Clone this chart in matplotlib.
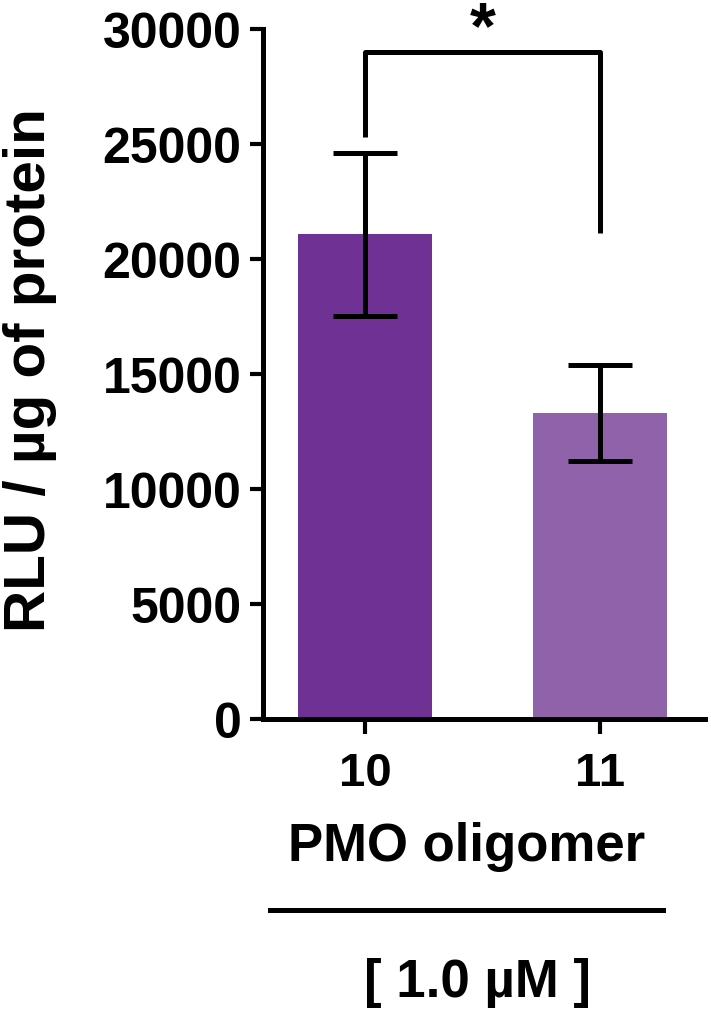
import matplotlib.pyplot as plt

plt.rcParams['font.family'] = ['Liberation Sans', 'DejaVu Sans']
plt.rcParams['font.weight'] = 'bold'

# data
groups = ['10', '11']
means = [21080, 13300]
errors = [3550, 2090]
bar_colors = ['#6f3193', '#9062a9']
yticks = [0, 5000, 10000, 15000, 20000, 25000, 30000]

# significance bracket (data units)
sig_left_low = 25300
sig_right_low = 21150
sig_top = 29000

fig = plt.figure(figsize=(7.11, 10.20), dpi=100)
ax = fig.add_axes([0.370, 0.294, 0.6216, 0.6766])

x = list(range(len(groups)))
ax.bar(x, means, width=0.57, color=bar_colors, zorder=1)
ax.errorbar(x, means, yerr=errors, fmt='none', ecolor='black',
            elinewidth=3.6, capsize=23, capthick=3.6, zorder=2)

ax.plot([x[0], x[0], x[1], x[1]],
        [sig_left_low, sig_top, sig_top, sig_right_low],
        color='black', lw=3.6, clip_on=False, solid_capstyle='butt')
ax.text((x[0] + x[1]) / 2, sig_top + 200, '*', ha='center', va='baseline',
        fontsize=48, fontweight='bold')

ax.set_xlim(-0.434, 1.447)
ax.set_ylim(0, 30000)
ax.set_xticks(x)
ax.set_xticklabels(groups)
ax.set_yticks(yticks)
ax.set_yticklabels([str(t) for t in yticks])

for side in ['top', 'right']:
    ax.spines[side].set_visible(False)
for side in ['left', 'bottom']:
    ax.spines[side].set_linewidth(3.6)

ax.tick_params(axis='y', length=9.5, width=3.0, labelsize=36, pad=6)
ax.tick_params(axis='x', length=11, width=3.0, labelsize=34, pad=12)

fig.text(30 / 711, 1 - 370 / 1020, 'RLU / µg of protein', rotation=90,
         ha='center', va='center', fontsize=42, fontweight='bold')
fig.text(467 / 711, 1 - 847 / 1020, 'PMO oligomer', ha='center', va='center',
         fontsize=38, fontweight='bold')
fig.add_artist(plt.Line2D([270 / 711, 663 / 711], [1 - 911 / 1020, 1 - 911 / 1020],
                          color='black', lw=3.6))
fig.text(477 / 711, 1 - 983 / 1020, '[ 1.0 µM ]', ha='center', va='center',
         fontsize=38, fontweight='bold')

fig.savefig('out.png', dpi=100)
